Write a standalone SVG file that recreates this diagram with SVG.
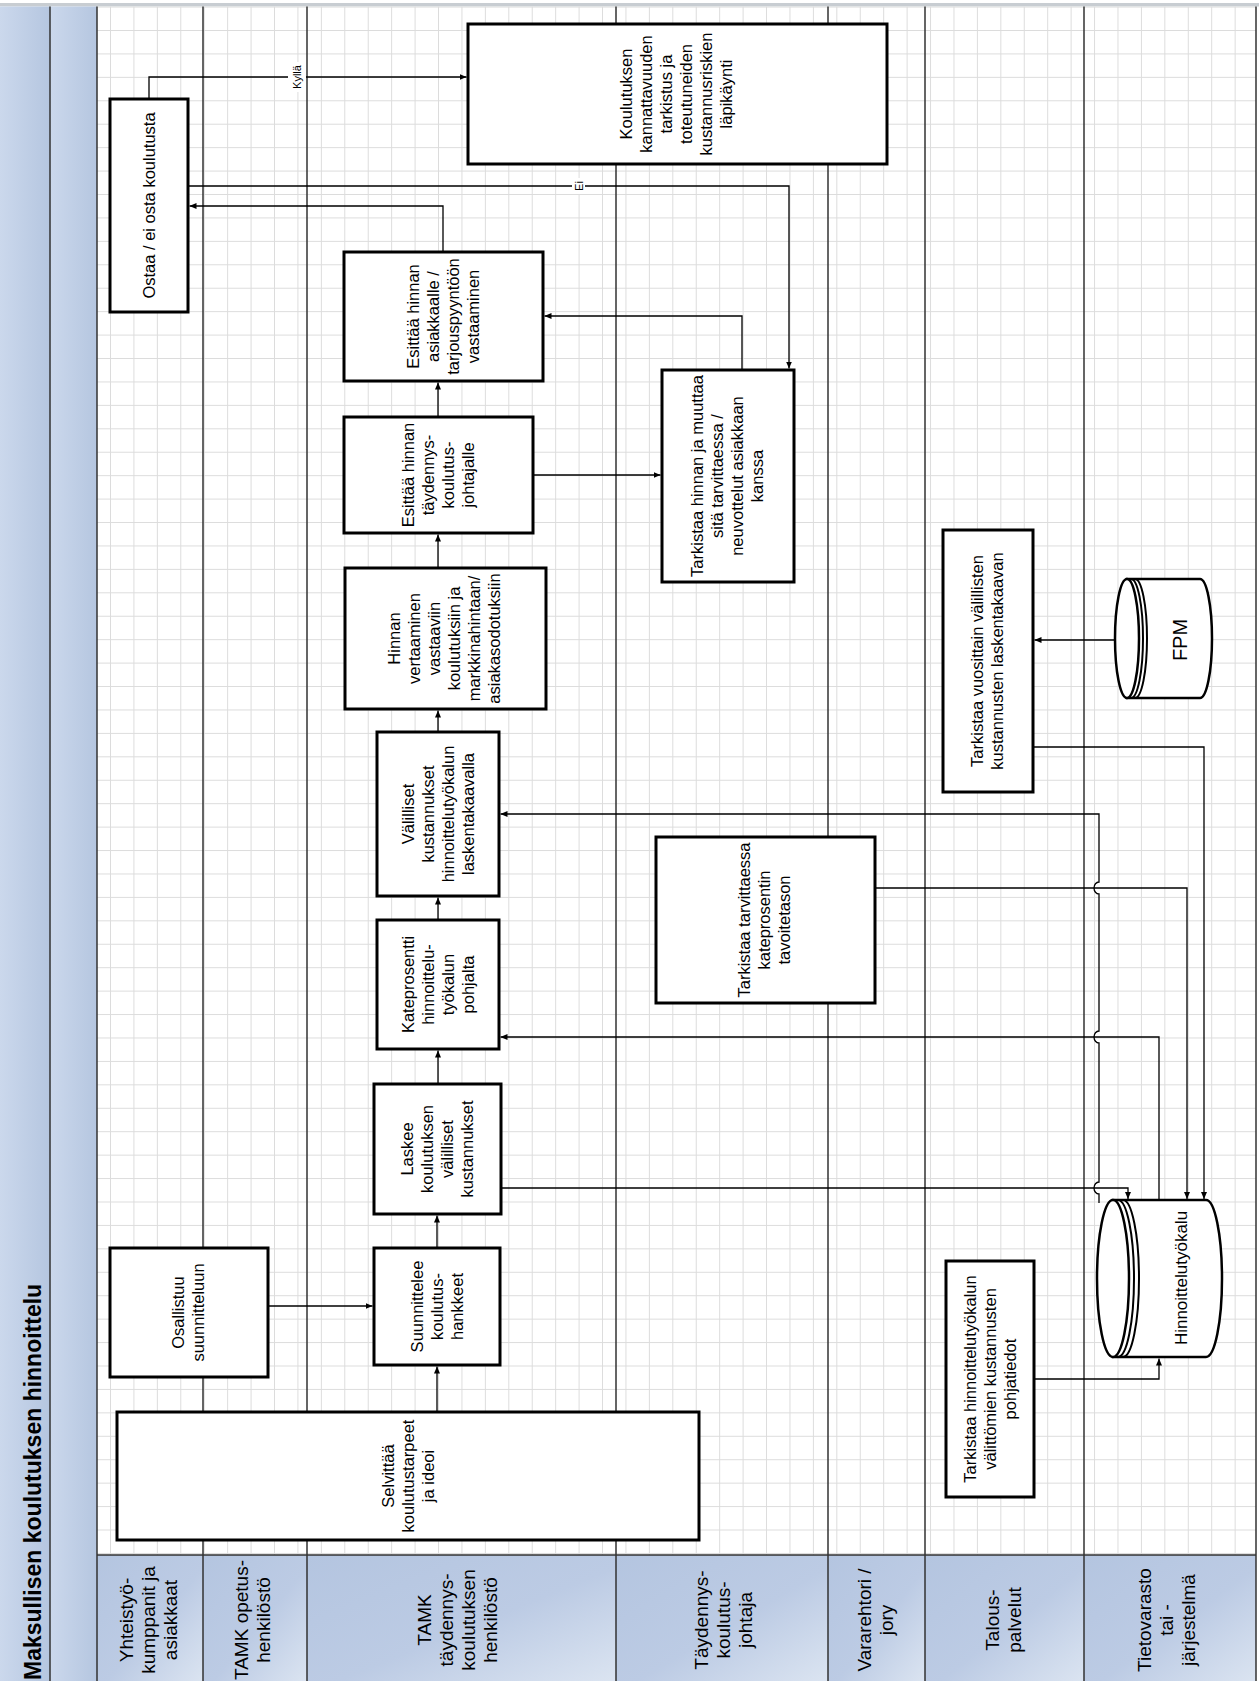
<svg xmlns="http://www.w3.org/2000/svg" width="1259" height="1681" viewBox="0 0 1259 1681">
<defs>
<style>
.box{fill:#fff;stroke:#000;stroke-width:3}
.cyl{fill:#fff;stroke:#000;stroke-width:2.5}
.arc{fill:none;stroke:#000;stroke-width:2}
.t{font-family:"Liberation Sans",Arial,sans-serif;font-size:16.5px;fill:#000;text-anchor:middle}
.h{font-family:"Liberation Sans",Arial,sans-serif;font-size:19px;fill:#000;text-anchor:middle}
.lbl{font-family:"Liberation Sans",Arial,sans-serif;font-size:11px;fill:#000;text-anchor:middle}
.title{font-family:"Liberation Sans",Arial,sans-serif;font-size:23px;font-weight:bold;fill:#000}
.lane{stroke:#333;stroke-width:1.5;fill:none}
.conn path{fill:none;stroke:#000;stroke-width:1.3}
.conn .a{marker-end:url(#arr)}
</style>
<pattern id="grid" x="110" y="30" width="23.43" height="23.43" patternUnits="userSpaceOnUse">
<path d="M0 0.5H23.43M0.5 0V23.43" stroke="#dcdcdc" stroke-width="1" fill="none"/>
</pattern>
<marker id="arr" viewBox="0 0 7 6" refX="7" refY="3" markerWidth="7" markerHeight="6" orient="auto" markerUnits="userSpaceOnUse">
<path d="M0,0 L7,3 L0,6 z" fill="#000"/>
</marker>
<linearGradient id="hdr" x1="0" y1="0" x2="1" y2="1">
<stop offset="0" stop-color="#b4c5e0"/>
<stop offset="0.55" stop-color="#bccbe4"/>
<stop offset="1" stop-color="#dbe4f1"/>
</linearGradient>
<linearGradient id="strip" x1="0" y1="0" x2="1" y2="0">
<stop offset="0" stop-color="#cbd8ec"/>
<stop offset="1" stop-color="#b5c6e0"/>
</linearGradient>
</defs>

<rect x="0" y="0" width="1259" height="1681" fill="#fff"/>
<rect x="0" y="3" width="1259" height="3.5" fill="#c8cdd2"/>

<g id="background">
<rect x="97" y="6.5" width="1159" height="1548.5" fill="url(#grid)"/>
<rect x="0" y="6.5" width="50" height="1674.5" fill="url(#strip)"/>
<rect x="50" y="6.5" width="47" height="1674.5" fill="url(#strip)"/>
<rect x="97" y="1555" width="106" height="126" fill="url(#hdr)"/>
<rect x="203" y="1555" width="104" height="126" fill="url(#hdr)"/>
<rect x="307" y="1555" width="309" height="126" fill="url(#hdr)"/>
<rect x="616" y="1555" width="212" height="126" fill="url(#hdr)"/>
<rect x="828" y="1555" width="97" height="126" fill="url(#hdr)"/>
<rect x="925" y="1555" width="159" height="126" fill="url(#hdr)"/>
<rect x="1084" y="1555" width="172" height="126" fill="url(#hdr)"/>
</g>

<g id="lanes">
<path class="lane" d="M50 6.5V1681M97 6.5V1681M203 6.5V1681M307 6.5V1681M616 6.5V1681M828 6.5V1681M925 6.5V1681M1084 6.5V1681M1256 6.5V1681M97 1555H1256"/>
</g>

<g id="title">
<text class="title" transform="translate(41,1680) rotate(-90)">Maksullisen koulutuksen hinnoittelu</text>
</g>

<g id="lane-headers">
<g id="lane1" transform="translate(148,1620) rotate(-90)"><text class="h"><tspan x="0" y="-15.35">Yhteistyö-</tspan><tspan x="0" y="6.65">kumppanit ja</tspan><tspan x="0" y="28.65">asiakkaat</tspan></text></g>
<g id="lane2" transform="translate(252,1620) rotate(-90)"><text class="h"><tspan x="0" y="-4.35">TAMK opetus-</tspan><tspan x="0" y="17.65">henkilöstö</tspan></text></g>
<g id="lane3" transform="translate(457,1620) rotate(-90)"><text class="h"><tspan x="0" y="-26.35">TAMK</tspan><tspan x="0" y="-4.35">täydennys-</tspan><tspan x="0" y="17.65">koulutuksen</tspan><tspan x="0" y="39.65">henkilöstö</tspan></text></g>
<g id="lane4" transform="translate(723,1620) rotate(-90)"><text class="h"><tspan x="0" y="-15.35">Täydennys-</tspan><tspan x="0" y="6.65">koulutus-</tspan><tspan x="0" y="28.65">johtaja</tspan></text></g>
<g id="lane5" transform="translate(875,1620) rotate(-90)"><text class="h"><tspan x="0" y="-4.35">Vararehtori /</tspan><tspan x="0" y="17.65">jory</tspan></text></g>
<g id="lane6" transform="translate(1003,1620) rotate(-90)"><text class="h"><tspan x="0" y="-4.35">Talous-</tspan><tspan x="0" y="17.65">palvelut</tspan></text></g>
<g id="lane7" transform="translate(1166,1620) rotate(-90)"><text class="h"><tspan x="0" y="-15.35">Tietovarasto</tspan><tspan x="0" y="6.65">tai -</tspan><tspan x="0" y="28.65">järjestelmä</tspan></text></g>
</g>

<g id="connectors" class="conn">
<path class="a" d="M437 1412V1366.5"/>
<path class="a" d="M268 1306H372.5"/>
<path class="a" d="M437 1248V1215.5"/>
<path class="a" d="M438 1084V1050.5"/>
<path class="a" d="M438 920V897.5"/>
<path class="a" d="M438 732V710.5"/>
<path class="a" d="M438 568V534.5"/>
<path class="a" d="M438 417V382.5"/>
<path class="a" d="M443 252V206H189.5"/>
<path class="a" d="M188 186H789V368.5"/>
<path class="a" d="M149 99V77H466.5"/>
<path class="a" d="M533 475H660.5"/>
<path class="a" d="M742 370V316H544.5"/>
<path class="a" d="M501 1188H1128V1199"/>
<path class="a" d="M1159 1200V1037H500.5"/>
<path class="a" d="M875 888H1187V1199"/>
<path class="a" d="M1099 1203V1194a5 6 0 0 1 0-12V1043a5 6 0 0 1 0-12V894a5 6 0 0 1 0-12V814H500.5"/>
<path class="a" d="M1033 747H1204V1199"/>
<path class="a" d="M1115 640H1034.5"/>
<path class="a" d="M1034 1379H1159V1358.5"/>
<g id="label-kylla" transform="translate(297,77) rotate(-90)"><rect x="-15" y="-9" width="30" height="18" fill="#fff"/><text class="lbl" x="0" y="4">Kyllä</text></g>
<g id="label-ei" transform="translate(578.5,186) rotate(-90)"><rect x="-8" y="-6.5" width="16" height="13" fill="#fff"/><text class="lbl" x="0" y="4">Ei</text></g>
</g>

<g id="nodes">
<g id="n-ostaa"><rect class="box" x="110" y="99" width="78" height="213"/>
<text class="t" transform="translate(149,205.5) rotate(-90)"><tspan x="0" y="5.8">Ostaa / ei osta koulutusta</tspan></text></g>

<g id="n-kannattavuus"><rect class="box" x="468" y="24" width="419" height="140"/>
<text class="t" transform="translate(676,94) rotate(-90)"><tspan x="0" y="-44.2">Koulutuksen</tspan><tspan x="0" y="-24.2">kannattavuuden</tspan><tspan x="0" y="-4.2">tarkistus ja</tspan><tspan x="0" y="15.8">toteutuneiden</tspan><tspan x="0" y="35.8">kustannusriskien</tspan><tspan x="0" y="55.8">läpikäynti</tspan></text></g>

<g id="n-esittaa-asiakkaalle"><rect class="box" x="344" y="252" width="199" height="129"/>
<text class="t" transform="translate(443.5,316.5) rotate(-90)"><tspan x="0" y="-24.2">Esittää hinnan</tspan><tspan x="0" y="-4.2">asiakkaalle /</tspan><tspan x="0" y="15.8">tarjouspyyntöön</tspan><tspan x="0" y="35.8">vastaaminen</tspan></text></g>

<g id="n-esittaa-johtajalle"><rect class="box" x="344" y="417" width="189" height="116"/>
<text class="t" transform="translate(438.5,475) rotate(-90)"><tspan x="0" y="-24.2">Esittää hinnan</tspan><tspan x="0" y="-4.2">täydennys-</tspan><tspan x="0" y="15.8">koulutus-</tspan><tspan x="0" y="35.8">johtajalle</tspan></text></g>

<g id="n-hinnan-vertaaminen"><rect class="box" x="345" y="568" width="201" height="141"/>
<text class="t" transform="translate(444,638.5) rotate(-90)"><tspan x="0" y="-44.2">Hinnan</tspan><tspan x="0" y="-24.2">vertaaminen</tspan><tspan x="0" y="-4.2">vastaaviin</tspan><tspan x="0" y="15.8">koulutuksiin ja</tspan><tspan x="0" y="35.8">markkinahintaan/</tspan><tspan x="0" y="55.8">asiakasodotuksiin</tspan></text></g>

<g id="n-valilliset"><rect class="box" x="377" y="732" width="122" height="164"/>
<text class="t" transform="translate(438,814) rotate(-90)"><tspan x="0" y="-24.2">Välilliset</tspan><tspan x="0" y="-4.2">kustannukset</tspan><tspan x="0" y="15.8">hinnoittelutyökalun</tspan><tspan x="0" y="35.8">laskentakaavalla</tspan></text></g>

<g id="n-kateprosentti"><rect class="box" x="377" y="920" width="122" height="129"/>
<text class="t" transform="translate(438,984.5) rotate(-90)"><tspan x="0" y="-24.2">Kateprosentti</tspan><tspan x="0" y="-4.2">hinnoittelu-</tspan><tspan x="0" y="15.8">työkalun</tspan><tspan x="0" y="35.8">pohjalta</tspan></text></g>

<g id="n-laskee"><rect class="box" x="374" y="1084" width="127" height="130"/>
<text class="t" transform="translate(437.5,1149) rotate(-90)"><tspan x="0" y="-24.2">Laskee</tspan><tspan x="0" y="-4.2">koulutuksen</tspan><tspan x="0" y="15.8">välilliset</tspan><tspan x="0" y="35.8">kustannukset</tspan></text></g>

<g id="n-suunnittelee"><rect class="box" x="374" y="1248" width="126" height="117"/>
<text class="t" transform="translate(437,1306.5) rotate(-90)"><tspan x="0" y="-14.2">Suunnittelee</tspan><tspan x="0" y="5.8">koulutus-</tspan><tspan x="0" y="25.8">hankkeet</tspan></text></g>

<g id="n-selvittaa"><rect class="box" x="117" y="1412" width="582" height="128"/>
<text class="t" transform="translate(408,1476) rotate(-90)"><tspan x="0" y="-14.2">Selvittää</tspan><tspan x="0" y="5.8">koulutustarpeet</tspan><tspan x="0" y="25.8">ja ideoi</tspan></text></g>

<g id="n-osallistuu"><rect class="box" x="110" y="1248" width="158" height="129"/>
<text class="t" transform="translate(188,1312.5) rotate(-90)"><tspan x="0" y="-4.2">Osallistuu</tspan><tspan x="0" y="15.8">suunnitteluun</tspan></text></g>

<g id="n-tarkistaa-hinnan"><rect class="box" x="662" y="370" width="132" height="212"/>
<text class="t" transform="translate(727,476) rotate(-90)"><tspan x="0" y="-24.2">Tarkistaa hinnan ja muuttaa</tspan><tspan x="0" y="-4.2">sitä tarvittaessa /</tspan><tspan x="0" y="15.8">neuvottelut asiakkaan</tspan><tspan x="0" y="35.8">kanssa</tspan></text></g>

<g id="n-tarkistaa-kate"><rect class="box" x="656" y="837" width="219" height="166"/>
<text class="t" transform="translate(764,920) rotate(-90)"><tspan x="0" y="-14.2">Tarkistaa tarvittaessa</tspan><tspan x="0" y="5.8">kateprosentin</tspan><tspan x="0" y="25.8">tavoitetason</tspan></text></g>

<g id="n-tarkistaa-vuosittain"><rect class="box" x="943" y="530" width="90" height="262"/>
<text class="t" transform="translate(987,661) rotate(-90)"><tspan x="0" y="-4.2">Tarkistaa vuosittain välillisten</tspan><tspan x="0" y="15.8">kustannusten laskentakaavan</tspan></text></g>

<g id="n-tarkistaa-pohjatiedot"><rect class="box" x="946" y="1261" width="88" height="236"/>
<text class="t" transform="translate(990,1379) rotate(-90)"><tspan x="0" y="-14.2">Tarkistaa hinnoittelutyökalun</tspan><tspan x="0" y="5.8">välittömien kustannusten</tspan><tspan x="0" y="25.8">pohjatiedot</tspan></text></g>

<g id="n-fpm">
<path class="cyl" d="M1127 579H1200A12 59.5 0 0 1 1200 698H1127Z"/>
<ellipse class="cyl" cx="1127" cy="638.5" rx="12" ry="59.5"/>
<path class="arc" d="M1131 579A12 59.5 0 0 1 1131 698M1135 579A12 59.5 0 0 1 1135 698"/>
<text class="t" style="font-size:20px" transform="translate(1180,640) rotate(-90)"><tspan x="0" y="7">FPM</tspan></text>
</g>

<g id="n-hinnoittelutyokalu">
<path class="cyl" d="M1113 1200H1206A16 78.5 0 0 1 1206 1357H1113Z"/>
<ellipse class="cyl" cx="1113" cy="1278.5" rx="16" ry="78.5"/>
<path class="arc" d="M1118 1200A16 78.5 0 0 1 1118 1357M1123 1200A16 78.5 0 0 1 1123 1357"/>
<text class="t" style="font-size:17px" transform="translate(1181,1278) rotate(-90)"><tspan x="0" y="6">Hinnoittelutyökalu</tspan></text>
</g>
</g>
</svg>
